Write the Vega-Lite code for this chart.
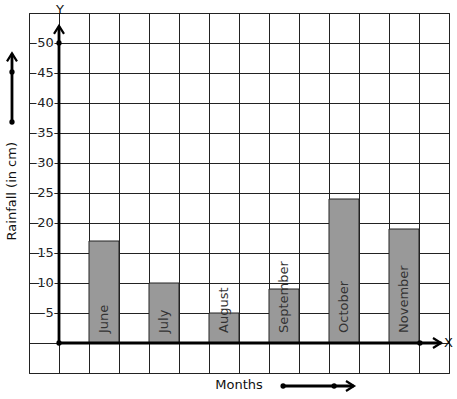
{
  "$schema": "https://vega.github.io/schema/vega-lite/v6.json",
  "width": 420,
  "height": 360,
  "autosize": "none",
  "padding": {"left": 29, "top": 13, "right": 8, "bottom": 26},
  "background": "white",
  "config": {"view": {"stroke": "#222", "strokeWidth": 1}, "axis": {"titleOpacity": 0, "labels": false, "ticks": false, "domain": false, "grid": true, "gridColor": "#222", "gridOpacity": 1, "gridWidth": 1}},
  "datasets": {
    "bars": [
      {"month": "June", "start": 1, "end": 2, "mid": 1.5, "rainfall": 17},
      {"month": "July", "start": 3, "end": 4, "mid": 3.5, "rainfall": 10},
      {"month": "August", "start": 5, "end": 6, "mid": 5.5, "rainfall": 5},
      {"month": "September", "start": 7, "end": 8, "mid": 7.5, "rainfall": 9},
      {"month": "October", "start": 9, "end": 10, "mid": 9.5, "rainfall": 24},
      {"month": "November", "start": 11, "end": 12, "mid": 11.5, "rainfall": 19}
    ],
    "lines": [
      {"x": 0, "y": 0, "x2": 0, "y2": 52.7},
      {"x": 0, "y": 0, "x2": 12.75, "y2": 0},
      {"x": -1.567, "y": 36.83, "x2": -1.567, "y2": 48.2},
      {"x": 7.47, "y": -7.17, "x2": 9.82, "y2": -7.17}
    ],
    "dots": [
      {"x": 0, "y": 0}, {"x": 0, "y": 50}, {"x": 12.03, "y": 0},
      {"x": -1.567, "y": 36.83}, {"x": -1.567, "y": 45.17},
      {"x": 7.47, "y": -7.17}, {"x": 9.17, "y": -7.17}
    ],
    "heads": [
      {"x": 0, "y": 52.2, "angle": 0},
      {"x": 12.6, "y": 0, "angle": 90},
      {"x": -1.567, "y": 47.6, "angle": 0},
      {"x": 9.7, "y": -7.17, "angle": 90}
    ],
    "ticks": [
      {"y": 5, "label": "5"}, {"y": 10, "label": "10"}, {"y": 15, "label": "15"},
      {"y": 20, "label": "20"}, {"y": 25, "label": "25"}, {"y": 30, "label": "30"},
      {"y": 35, "label": "35"}, {"y": 40, "label": "40"}, {"y": 45, "label": "45"},
      {"y": 50, "label": "50"}
    ],
    "titles": [
      {"x": 12.98, "y": 0, "text": "X", "angle": 0},
      {"x": 0.03, "y": 55.5, "text": "Y", "angle": 0},
      {"x": 6.0, "y": -7.0, "text": "Months", "angle": 0},
      {"x": -1.567, "y": 25.3, "text": "Rainfall (in cm)", "angle": 270}
    ]
  },
  "layer": [
    {
      "data": {"name": "bars"},
      "mark": {"type": "rect", "fill": "#999999", "stroke": "#222", "strokeWidth": 1},
      "encoding": {
        "x": {"field": "start", "type": "quantitative",
          "scale": {"domain": [-1, 13], "nice": false, "zero": false},
          "axis": {"values": [-1,0,1,2,3,4,5,6,7,8,9,10,11,12,13], "tickCount": 15, "title": null, "grid": true}},
        "x2": {"field": "end"},
        "y": {"field": "rainfall", "type": "quantitative",
          "scale": {"domain": [-5, 55], "nice": false, "zero": false},
          "axis": {"values": [-5,0,5,10,15,20,25,30,35,40,45,50,55], "tickCount": 13, "title": null, "grid": true}},
        "y2": {"datum": 0}
      }
    },
    {
      "data": {"name": "bars"},
      "mark": {"type": "text", "angle": 270, "align": "left", "baseline": "middle", "font": "DejaVu Sans", "fontSize": 13, "color": "#333"},
      "encoding": {
        "x": {"field": "mid", "type": "quantitative"},
        "y": {"datum": 1.67, "type": "quantitative"},
        "text": {"field": "month"}
      }
    },
    {
      "data": {"name": "lines"},
      "mark": {"type": "rule", "color": "black", "strokeWidth": 2.8},
      "encoding": {
        "x": {"field": "x", "type": "quantitative"},
        "x2": {"field": "x2"},
        "y": {"field": "y", "type": "quantitative"},
        "y2": {"field": "y2"}
      }
    },
    {
      "data": {"name": "dots"},
      "mark": {"type": "point", "filled": true, "color": "black", "size": 28, "opacity": 1},
      "encoding": {
        "x": {"field": "x", "type": "quantitative"},
        "y": {"field": "y", "type": "quantitative"}
      }
    },
    {
      "data": {"name": "heads"},
      "mark": {"type": "point", "shape": "M-1,0.8L0,-0.8L1,0.8", "filled": false, "stroke": "black", "strokeWidth": 2.2, "size": 100, "opacity": 1},
      "encoding": {
        "x": {"field": "x", "type": "quantitative"},
        "y": {"field": "y", "type": "quantitative"},
        "angle": {"field": "angle", "type": "quantitative", "scale": null}
      }
    },
    {
      "data": {"name": "ticks"},
      "mark": {"type": "text", "align": "right", "baseline": "middle", "font": "DejaVu Sans", "fontSize": 13, "stroke": "white", "strokeWidth": 3, "fill": "white"},
      "encoding": {
        "x": {"datum": -0.17, "type": "quantitative"},
        "y": {"field": "y", "type": "quantitative"},
        "text": {"field": "label"}
      }
    },
    {
      "data": {"name": "ticks"},
      "mark": {"type": "text", "align": "right", "baseline": "middle", "font": "DejaVu Sans", "fontSize": 13, "color": "#222"},
      "encoding": {
        "x": {"datum": -0.17, "type": "quantitative"},
        "y": {"field": "y", "type": "quantitative"},
        "text": {"field": "label"}
      }
    },
    {
      "data": {"name": "titles"},
      "mark": {"type": "text", "align": "center", "baseline": "middle", "font": "DejaVu Sans", "fontSize": 13, "color": "#111"},
      "encoding": {
        "x": {"field": "x", "type": "quantitative"},
        "y": {"field": "y", "type": "quantitative"},
        "angle": {"field": "angle", "type": "quantitative", "scale": null},
        "text": {"field": "text"}
      }
    }
  ]
}
